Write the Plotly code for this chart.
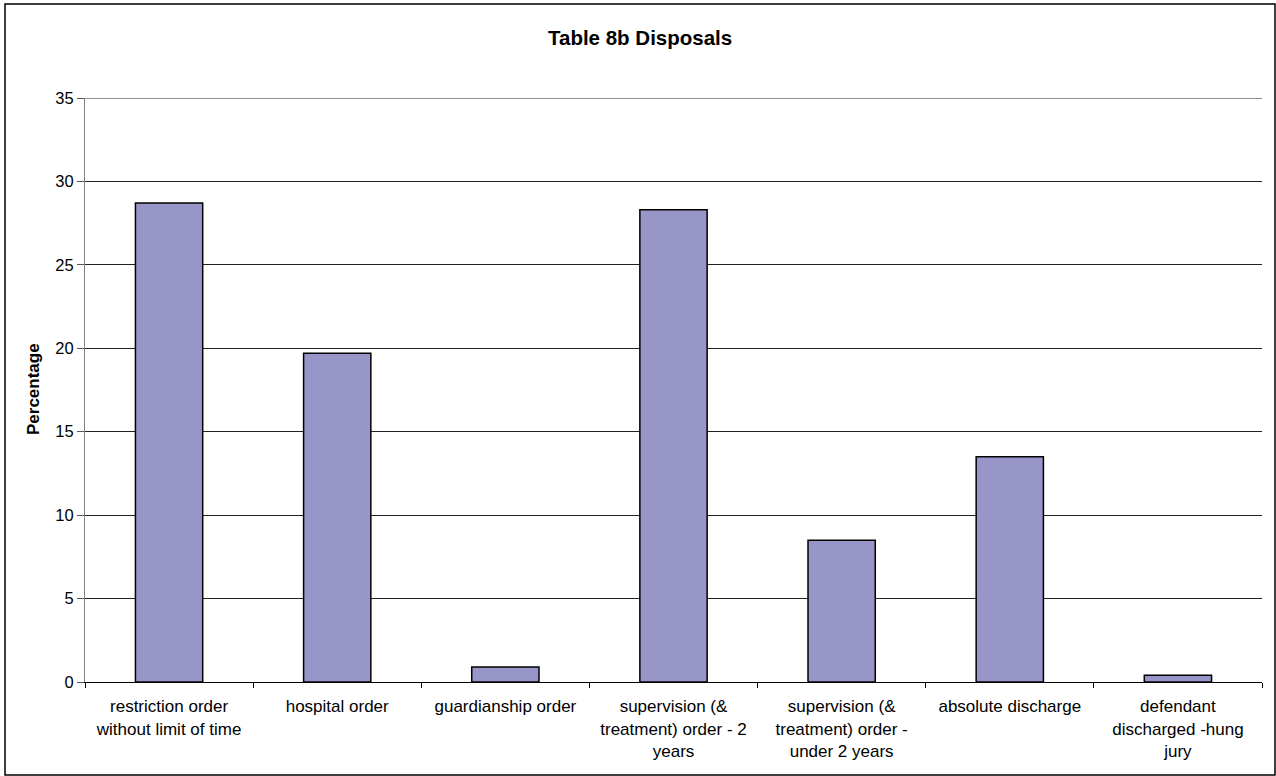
import plotly.graph_objects as go

# Disposal categories and their share of cases (%)
categories = [
    "restriction order<br>without limit of time",
    "hospital order",
    "guardianship order",
    "supervision (&<br>treatment) order - 2<br>years",
    "supervision (&<br>treatment) order -<br>under 2 years",
    "absolute discharge",
    "defendant<br>discharged -hung<br>jury",
]
percentages = [28.7, 19.7, 0.9, 28.3, 8.5, 13.5, 0.4]
y_ticks = [0, 5, 10, 15, 20, 25, 30, 35]
y_max = 35

W, H = 1276, 776
L, R, T, B = 85, 14, 98, 94
pw, ph = W - L - R, H - T - B
FONT = "Liberation Sans, Arial, sans-serif"
GRID = "#222222"


def px_x(p):
    return (p - L) / pw


def px_y(p):
    return (H - B - p) / ph


fig = go.Figure(
    go.Bar(
        x=categories,
        y=percentages,
        width=0.4,
        marker=dict(color="#9896C8", line=dict(color="#000000", width=1.5)),
        hoverinfo="x+y",
    )
)

fig.update_layout(
    width=W,
    height=H,
    margin=dict(l=L, r=R, t=T, b=B, pad=0),
    paper_bgcolor="#ffffff",
    plot_bgcolor="#ffffff",
    showlegend=False,
    font=dict(family=FONT, size=17, color="#000000"),
    xaxis=dict(
        type="category",
        tickson="boundaries",
        ticks="outside",
        ticklen=5,
        tickcolor="#000000",
        ticklabelstandoff=9,
        showline=True,
        linecolor="#000000",
        linewidth=1,
        showgrid=False,
        tickfont=dict(size=17),
        fixedrange=True,
    ),
    yaxis=dict(
        range=[0, y_max],
        tickvals=y_ticks,
        ticks="outside",
        ticklen=7,
        tickcolor="#555555",
        showline=True,
        linecolor="#808080",
        linewidth=1,
        showgrid=True,
        gridcolor=GRID,
        gridwidth=1,
        zeroline=False,
        tickfont=dict(size=16.5),
        fixedrange=True,
    ),
    annotations=[
        dict(
            text="<b>Table 8b Disposals</b>",
            xref="paper", yref="paper",
            x=px_x(W / 2 + 2), y=px_y(37),
            xanchor="center", yanchor="middle",
            showarrow=False,
            font=dict(size=20.5),
        ),
        dict(
            text="<b>Percentage</b>",
            xref="paper", yref="paper",
            x=px_x(33), y=px_y(389),
            xanchor="center", yanchor="middle",
            textangle=-90,
            showarrow=False,
            font=dict(size=17),
        ),
    ],
    shapes=[
        # outer chart frame
        dict(
            type="rect",
            xref="paper", yref="paper",
            x0=px_x(5), x1=px_x(1275),
            y0=px_y(775), y1=px_y(4),
            line=dict(color="#000000", width=1.5),
            fillcolor="rgba(0,0,0,0)",
            layer="below",
        ),
        # gridline at the top of the value range
        dict(
            type="line",
            xref="paper", yref="y",
            x0=0, x1=1, y0=y_max, y1=y_max,
            line=dict(color=GRID, width=1),
            layer="below",
        ),
    ],
)

fig.write_html("out.html")
